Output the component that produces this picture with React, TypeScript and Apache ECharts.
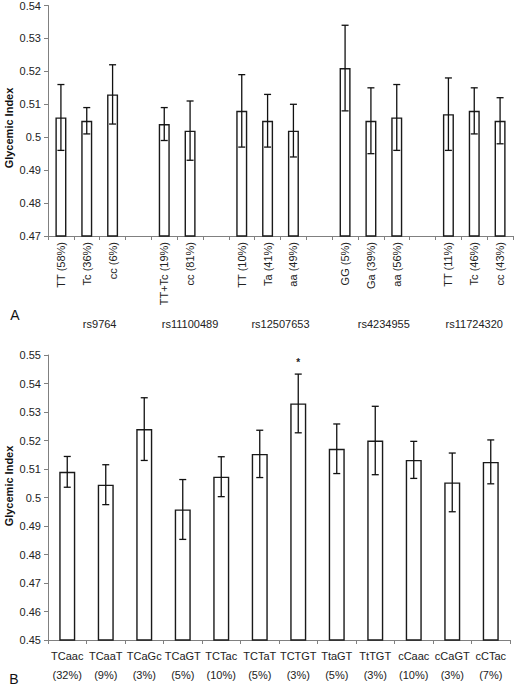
import React, { useEffect, useRef } from "react";
import * as echarts from "echarts";

// Panel A: genotype categories (blank entries separate the SNP groups)
const catsA = [
  "TT (58%)", "Tc (36%)", "cc (6%)", "",
  "TT+Tc (19%)", "cc (81%)", "",
  "TT (10%)", "Ta (41%)", "aa (49%)", "",
  "GG (5%)", "Ga (39%)", "aa (56%)", "",
  "TT (11%)", "Tc (46%)", "cc (43%)",
];
const meanA: (number | null)[] = [
  0.506, 0.505, 0.513, null,
  0.504, 0.502, null,
  0.508, 0.505, 0.502, null,
  0.521, 0.505, 0.506, null,
  0.507, 0.508, 0.505,
];
const errA: (number | null)[] = [
  0.010, 0.004, 0.009, null,
  0.005, 0.009, null,
  0.011, 0.008, 0.008, null,
  0.013, 0.010, 0.010, null,
  0.011, 0.007, 0.007,
];
const groupsA = ["rs9764", "rs11100489", "rs12507653", "rs4234955", "rs11724320"];
const groupStartA = [0, 4, 7, 11, 15];
const groupEndA = [3, 6, 10, 14, 17];

// Panel B: haplotypes
const hapB = ["TCaac", "TCaaT", "TCaGc", "TCaGT", "TCTac", "TCTaT", "TCTGT", "TtaGT", "TtTGT", "cCaac", "cCaGT", "cCTac"];
const freqB = ["32%", "9%", "3%", "5%", "10%", "5%", "3%", "5%", "3%", "10%", "3%", "7%"];
const meanB = [0.509, 0.5045, 0.524, 0.4958, 0.5073, 0.5153, 0.533, 0.5171, 0.520, 0.5132, 0.5053, 0.5125];
const errB = [0.0054, 0.007, 0.011, 0.0105, 0.007, 0.0083, 0.0103, 0.0087, 0.012, 0.0065, 0.0103, 0.0077];
const sigB = ["", "", "", "", "", "", "*", "", "", "", "", ""];

const FONT = "'Liberation Sans', Arial, sans-serif";
const GA = { left: 48, top: 5, width: 465, height: 231 };
const GB = { left: 48, top: 355, width: 462, height: 285 };

function errRender(sig: string[] | null) {
  return (params: any, api: any) => {
    const x = api.value(0);
    const lo = api.coord([x, api.value(1)]);
    const hi = api.coord([x, api.value(2)]);
    const hw = 3.5;
    const style = { stroke: "#111", lineWidth: 1.3 };
    const children: any[] = [
      { type: "line", shape: { x1: lo[0], y1: lo[1], x2: hi[0], y2: hi[1] }, style },
      { type: "line", shape: { x1: hi[0] - hw, y1: hi[1], x2: hi[0] + hw, y2: hi[1] }, style },
      { type: "line", shape: { x1: lo[0] - hw, y1: lo[1], x2: lo[0] + hw, y2: lo[1] }, style },
    ];
    const s = sig ? sig[params.dataIndex] : "";
    if (s) {
      children.push({
        type: "text",
        style: { text: s, x: hi[0], y: hi[1] - 12, align: "center", verticalAlign: "middle", font: `bold 10px ${FONT}`, fill: "#222" },
      });
    }
    return { type: "group", children };
  };
}

export default function App() {
  const ref = useRef<HTMLDivElement>(null);
  useEffect(() => {
    if (!ref.current) return;
    const chart = echarts.init(ref.current, null, { renderer: "svg" });

    const errDataA: number[][] = [];
    meanA.forEach((m, i) => {
      const e = errA[i];
      if (m != null && e != null) errDataA.push([i, m - e, m + e]);
    });
    const errDataB = meanB.map((m, i) => [i, m - errB[i], m + errB[i]]);

    const bwA = GA.width / catsA.length;
    const groupTexts = groupsA.map((g, k) => ({
      type: "text",
      x: GA.left + ((groupStartA[k] + groupEndA[k] + 1) / 2) * bwA,
      y: 324,
      style: { text: g, align: "center", verticalAlign: "middle", font: `11px ${FONT}`, fill: "#222" },
    }));

    const axisLine = { show: true, lineStyle: { color: "#808080", width: 1 } };
    const axisTick = { show: true, length: 4, lineStyle: { color: "#808080" } };
    const yLabel = { fontSize: 11, fontFamily: FONT, color: "#222", margin: 7 };

    chart.setOption({
      animation: false,
      grid: [
        { ...GA, containLabel: false },
        { ...GB, containLabel: false },
      ],
      xAxis: [
        {
          type: "category",
          gridIndex: 0,
          data: catsA,
          axisLine,
          axisTick: { ...axisTick, interval: 0 },
          axisLabel: { interval: 0, rotate: 90, fontSize: 11, fontFamily: FONT, color: "#222", margin: 6 },
        },
        {
          type: "category",
          gridIndex: 1,
          data: hapB.map((h, i) => `${h}\n(${freqB[i]})`),
          axisLine,
          axisTick: { ...axisTick, interval: 0 },
          axisLabel: { interval: 0, fontSize: 11, fontFamily: FONT, color: "#222", margin: 6, lineHeight: 19 },
        },
      ],
      yAxis: [
        {
          type: "value",
          gridIndex: 0,
          min: 0.47,
          max: 0.54,
          interval: 0.01,
          axisLine,
          axisTick,
          splitLine: { show: false },
          axisLabel: yLabel,
        },
        {
          type: "value",
          gridIndex: 1,
          min: 0.45,
          max: 0.55,
          interval: 0.01,
          axisLine,
          axisTick,
          splitLine: { show: false },
          axisLabel: yLabel,
        },
      ],
      series: [
        {
          type: "bar",
          xAxisIndex: 0,
          yAxisIndex: 0,
          data: meanA.map((v) => (v == null ? "-" : v)),
          barWidth: 11,
          itemStyle: { color: "#fff", borderColor: "#1a1a1a", borderWidth: 1.4 },
        },
        {
          type: "custom",
          xAxisIndex: 0,
          yAxisIndex: 0,
          data: errDataA,
          encode: { x: 0, y: [1, 2] },
          renderItem: errRender(null),
          z: 5,
        },
        {
          type: "bar",
          xAxisIndex: 1,
          yAxisIndex: 1,
          data: meanB,
          barWidth: 16,
          itemStyle: { color: "#fff", borderColor: "#1a1a1a", borderWidth: 1.4 },
        },
        {
          type: "custom",
          xAxisIndex: 1,
          yAxisIndex: 1,
          data: errDataB,
          encode: { x: 0, y: [1, 2] },
          renderItem: errRender(sigB),
          z: 5,
        },
      ],
      graphic: [
        {
          type: "text",
          x: 9,
          y: 128,
          rotation: Math.PI / 2,
          style: { text: "Glycemic Index", align: "center", verticalAlign: "middle", font: `bold 11px ${FONT}`, fill: "#111" },
        },
        {
          type: "text",
          x: 9,
          y: 486,
          rotation: Math.PI / 2,
          style: { text: "Glycemic Index", align: "center", verticalAlign: "middle", font: `bold 11px ${FONT}`, fill: "#111" },
        },
        {
          type: "text",
          x: 15,
          y: 315,
          style: { text: "A", align: "center", verticalAlign: "middle", font: `14px ${FONT}`, fill: "#111" },
        },
        {
          type: "text",
          x: 14,
          y: 679,
          style: { text: "B", align: "center", verticalAlign: "middle", font: `14px ${FONT}`, fill: "#111" },
        },
        ...groupTexts,
      ],
    });
    return () => chart.dispose();
  }, []);

  return (
    <div
      ref={ref}
      style={{ position: "absolute", left: 0, top: 0, width: 515, height: 689, background: "#fff" }}
    />
  );
}
